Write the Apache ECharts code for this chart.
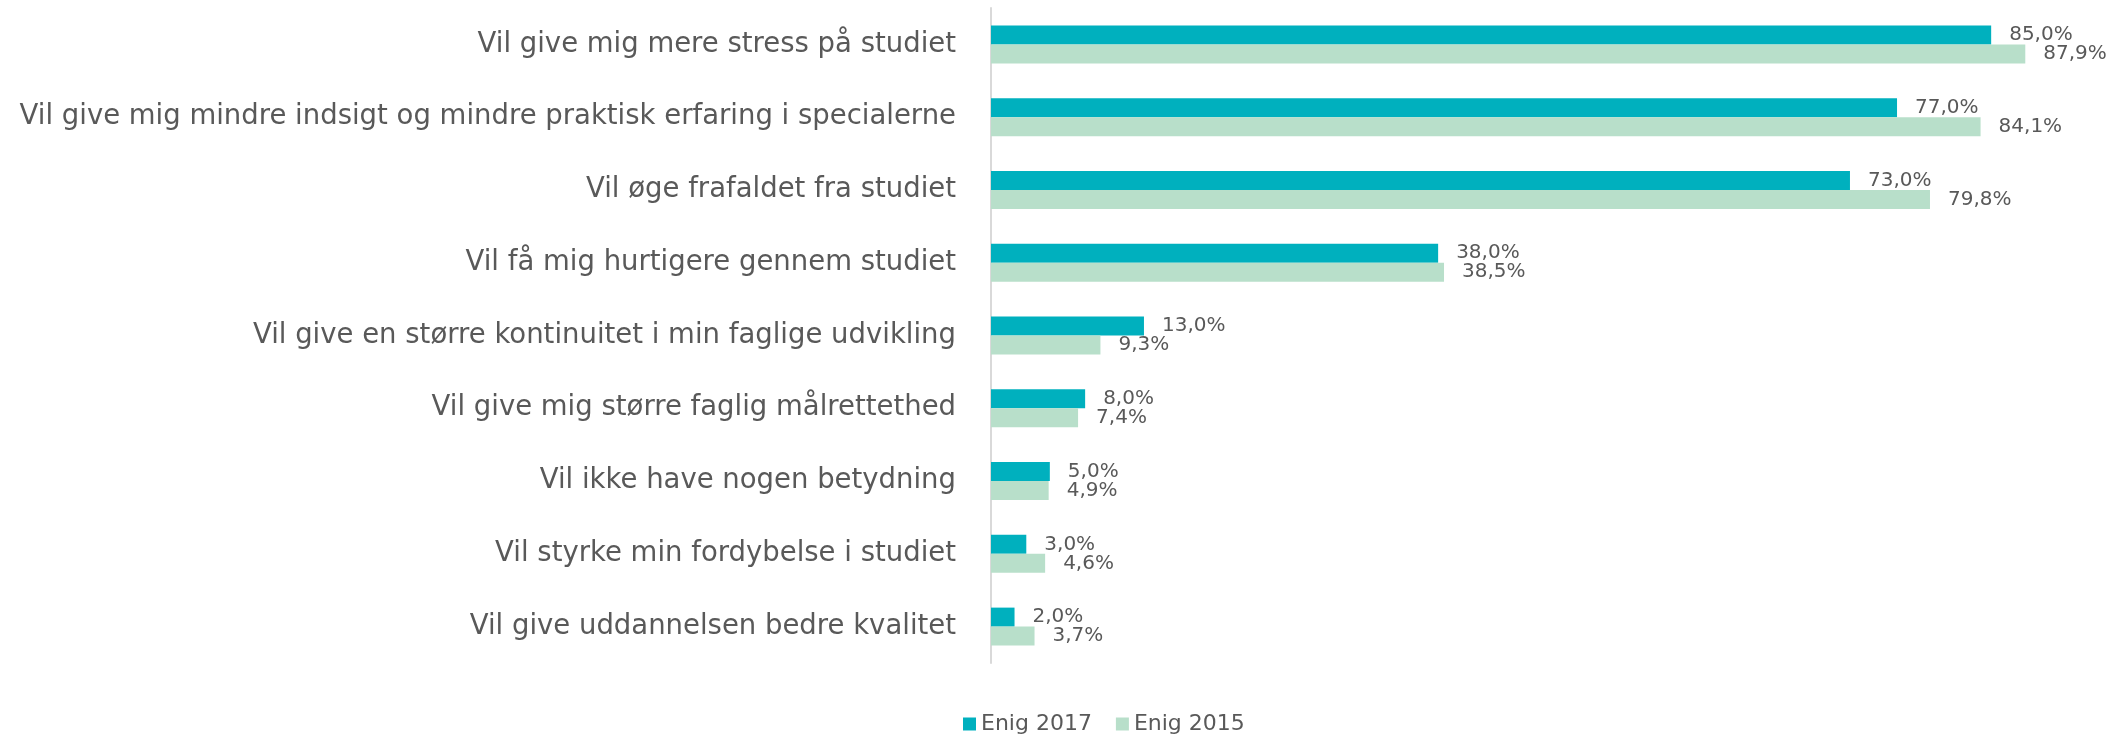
<!DOCTYPE html>
<html lang="da">

<head>
    <meta charset="UTF-8">
    <title>Enig 2017 / 2015</title>
    <script src="https://cdn.jsdelivr.net/npm/echarts@6/dist/echarts.min.js"></script>
    <style>
        body {
            margin: 0;
            padding: 0;
            background: #fff;
        }

        #chart {
            width: 2124px;
            height: 735px;
        }
    </style>
</head>

<body>
    <div id="chart"></div>

    <script>
        // kategorier (øverst først)
        var categories = [
            'Vil give mig mere stress på studiet',
            'Vil give mig mindre indsigt og mindre praktisk erfaring i specialerne',
            'Vil øge frafaldet fra studiet',
            'Vil få mig hurtigere gennem studiet',
            'Vil give en større kontinuitet i min faglige udvikling',
            'Vil give mig større faglig målrettethed',
            'Vil ikke have nogen betydning',
            'Vil styrke min fordybelse i studiet',
            'Vil give uddannelsen bedre kvalitet'
        ];
        var enig2017 = [85.0, 77.0, 73.0, 38.0, 13.0, 8.0, 5.0, 3.0, 2.0];
        var enig2015 = [87.9, 84.1, 79.8, 38.5, 9.3, 7.4, 4.9, 4.6, 3.7];
        var seriesNames = ['Enig 2017', 'Enig 2015'];

        var font = '"DejaVu Sans", sans-serif';
        var textColor = '#595959';

        function pct(p) {
            return p.value.toFixed(1).replace('.', ',') + '%';
        }

        var chart = echarts.init(document.getElementById('chart'));

        function barSeries(name, data, color) {
            return {
                name: name,
                type: 'bar',
                data: data,
                barWidth: 19,
                barGap: '0%',
                itemStyle: { color: color },
                label: {
                    show: true,
                    position: 'right',
                    distance: 18,
                    formatter: pct,
                    color: textColor,
                    fontFamily: font,
                    fontSize: 20
                },
                emphasis: { disabled: true }
            };
        }

        chart.setOption({
            animation: false,
            textStyle: { fontFamily: font },
            grid: {
                left: 991,
                right: 74,
                top: 8,
                bottom: 72
            },
            legend: {
                data: seriesNames,
                left: 958,
                top: 708,
                itemWidth: 13,
                itemHeight: 13,
                itemGap: 24,
                icon: 'rect',
                textStyle: {
                    color: textColor,
                    fontFamily: font,
                    fontSize: 22
                }
            },
            xAxis: {
                type: 'value',
                min: 0,
                max: 90,
                show: false
            },
            yAxis: {
                type: 'category',
                data: categories,
                inverse: true,
                axisLine: {
                    show: true,
                    lineStyle: { color: '#d9d9d9', width: 2 }
                },
                axisTick: { show: false },
                axisLabel: {
                    margin: 35,
                    color: textColor,
                    fontFamily: font,
                    fontSize: 27.5
                }
            },
            series: [
                barSeries(seriesNames[0], enig2017, '#00b0be'),
                barSeries(seriesNames[1], enig2015, '#b8dfca')
            ]
        });
    </script>
</body>

</html>
